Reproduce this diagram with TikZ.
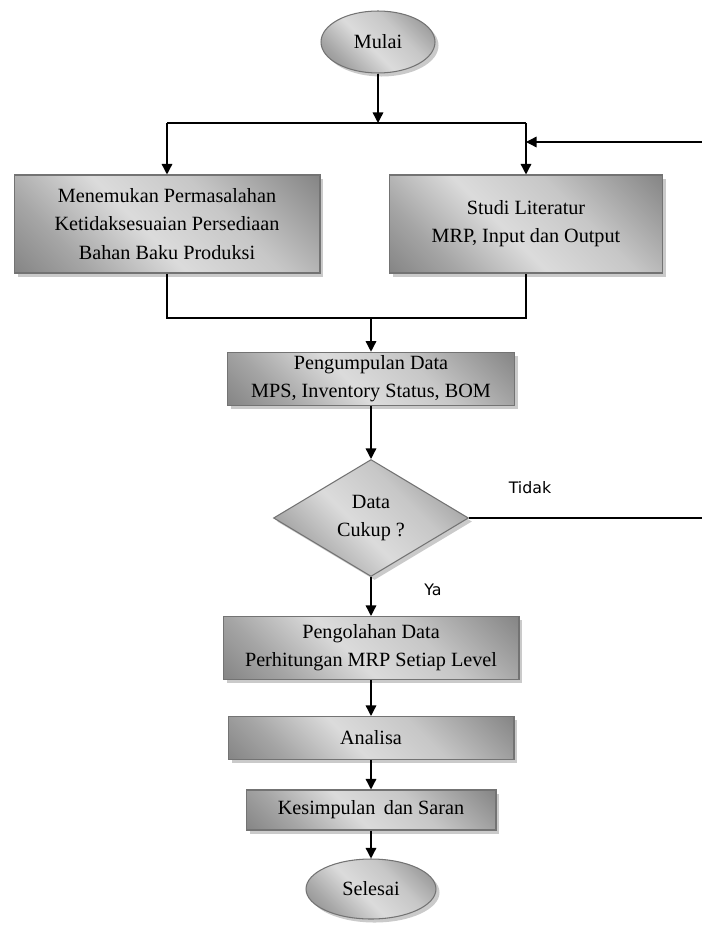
\documentclass[tikz,border=0pt]{standalone}
\usepackage{fontspec}
\setmainfont{Liberation Serif}
\newfontfamily\labelfont{DejaVu Sans}
\usetikzlibrary{shapes.geometric,shadows,arrows.meta}
\pgfdeclarehorizontalshading{kotak}{100bp}{color(0bp)=(black!62); color(28bp)=(black!35); color(45bp)=(black!14); color(62bp)=(black!22); color(100bp)=(black!64)}

\begin{document}
\begin{tikzpicture}
    [x=0.02cm,y=-0.02cm,line width=0.8pt,>={Triangle[length=6pt,width=6pt]},
     shade/.style={draw=black!55,line width=0.6pt,shading=kotak,shading angle=45,
       drop shadow={shadow xshift=2pt,shadow yshift=-2pt,opacity=0.35,fill=black!60}},
     box/.style={rectangle,shade,align=center,inner sep=2pt,font=\fontsize{11.5}{16}\selectfont},
     terminal/.style={ellipse,shade,inner sep=0pt,font=\fontsize{11.5}{16}\selectfont},
     decision/.style={diamond,shade,inner sep=0pt,align=center,font=\fontsize{11.5}{16}\selectfont},
     answer/.style={font=\labelfont\fontsize{9}{11}\selectfont}]
    \useasboundingbox (0,0) rectangle (702,926);
    \node (mulai) at (378,42) [terminal,minimum width=2.28cm,minimum height=1.24cm] {Mulai};
    \node (masalah) at (167,224) [box,minimum width=6.12cm,minimum height=1.96cm]
      {Menemukan Permasalahan\\Ketidaksesuaian Persediaan\\Bahan Baku Produksi};
    \node (studi) at (526,224) [box,minimum width=5.46cm,minimum height=1.96cm]
      {Studi Literatur\\MRP, Input dan Output};
    \node (kumpul) at (371,379) [box,minimum width=5.74cm,minimum height=1.04cm]
      {Pengumpulan Data\\MPS, Inventory Status, BOM};
    \node (cukup) at (371,518) [decision,minimum width=3.9cm,minimum height=2.34cm] {Data\\Cukup ?};
    \node (olah) at (371,648) [box,minimum width=5.92cm,minimum height=1.26cm]
      {Pengolahan Data\\Perhitungan MRP Setiap Level};
    \node (analisa) at (371,738) [box,minimum width=5.72cm,minimum height=0.86cm] {Analisa};
    \node (simpulan) at (371,810) [box,minimum width=5cm,minimum height=0.8cm] {Kesimpulan\, dan Saran};
    \node (selesai) at (371,889) [terminal,minimum width=2.6cm,minimum height=1.2cm] {Selesai};
    \node (tidak) at (530,488) [answer] {Tidak};
    \node (ya) at (433,590) [answer] {Ya};
    \coordinate (split) at (378,123);
    \coordinate (splitL) at (167,123);
    \coordinate (splitR) at (526,123);
    \coordinate (joinL) at (167,318);
    \coordinate (joinR) at (526,318);
    \coordinate (join) at (371,318);
    \coordinate (tepi) at (702,518);
    \coordinate (balik) at (702,142);
    \draw [->] (mulai) -- (split);
    \draw (splitL) -- (splitR);
    \draw [->] (splitL) -- (masalah);
    \draw [->] (splitR) -- (studi);
    \draw (masalah) -- (joinL) -- (joinR) -- (studi);
    \draw [->] (join) -- (kumpul);
    \draw [->] (kumpul) -- (cukup);
    \draw (cukup) -- (tepi);
    \draw [->] (balik) -- (splitR |- balik);
    \draw [->] (cukup) -- (olah);
    \draw [->] (olah) -- (analisa);
    \draw [->] (analisa) -- (simpulan);
    \draw [->] (simpulan) -- (selesai);
  \end{tikzpicture}
\end{document}
